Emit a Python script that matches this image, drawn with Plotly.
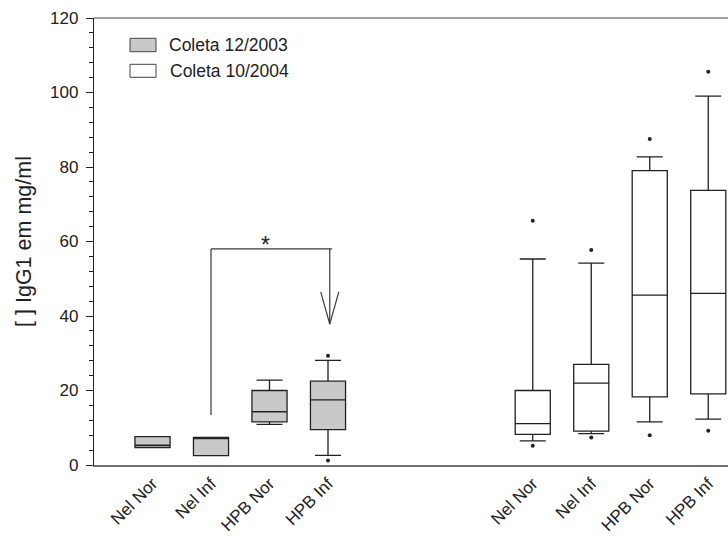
import plotly.graph_objects as go

# Groups and their positions on the x axis
categories = ["Nel Nor", "Nel Inf", "HPB Nor", "HPB Inf"]
pos_2003 = [1, 2, 3, 4]
pos_2004 = [7.5, 8.5, 9.5, 10.5]

# Coleta 12/2003 (IgG1, mg/ml)
low_2003 = [4.7, 2.5, 10.9, 2.6]
q1_2003 = [4.7, 2.5, 11.6, 9.5]
med_2003 = [5.3, 7.1, 14.3, 17.5]
q3_2003 = [7.6, 7.4, 20.0, 22.5]
high_2003 = [7.6, 7.4, 22.8, 28.1]
out_x_2003 = [4, 4]
out_y_2003 = [1.2, 29.3]

# Coleta 10/2004 (IgG1, mg/ml)
low_2004 = [6.5, 8.4, 11.6, 12.3]
q1_2004 = [8.2, 9.1, 18.3, 19.1]
med_2004 = [11.1, 22.0, 45.6, 46.1]
q3_2004 = [20.0, 27.0, 79.0, 73.7]
high_2004 = [55.3, 54.2, 82.7, 99.0]
out_x_2004 = [7.5, 7.5, 8.5, 8.5, 9.5, 9.5, 10.5, 10.5]
out_y_2004 = [5.2, 65.6, 7.4, 57.7, 8.0, 87.5, 9.2, 105.6]

# Significance bracket (Nel Inf vs HPB Inf, 12/2003)
bracket_x = [2.0, 4.07]
bracket_y = 58.0
bracket_leg_bottom = 13.4
arrow_x = 4.03
arrow_tip = 37.8
arrow_wing_top = 46.5
arrow_wing_dx = 0.155

FONT = "Liberation Sans, Arial, sans-serif"
INK = "#222222"

fig = go.Figure()

box_style = dict(width=0.6, whiskerwidth=0.74, boxpoints=False,
                 line=dict(color=INK, width=1.3), showlegend=False,
                 hoverinfo="skip")

fig.add_trace(go.Box(x=pos_2003, lowerfence=low_2003, q1=q1_2003,
                     median=med_2003, q3=q3_2003, upperfence=high_2003,
                     fillcolor="#c9c9c9", name="Coleta 12/2003", **box_style))
fig.add_trace(go.Box(x=pos_2004, lowerfence=low_2004, q1=q1_2004,
                     median=med_2004, q3=q3_2004, upperfence=high_2004,
                     fillcolor="#ffffff", name="Coleta 10/2004", **box_style))

fig.add_trace(go.Scatter(x=out_x_2003 + out_x_2004, y=out_y_2003 + out_y_2004,
                         mode="markers", marker=dict(color=INK, size=4),
                         showlegend=False, hoverinfo="skip"))

# bracket and arrow
line_style = dict(color="#3a3a3a", width=1.2)
shapes = [
    dict(type="line", xref="x", yref="y", x0=bracket_x[0], x1=bracket_x[0],
         y0=bracket_leg_bottom, y1=bracket_y, line=line_style),
    dict(type="line", xref="x", yref="y", x0=bracket_x[0], x1=bracket_x[1],
         y0=bracket_y, y1=bracket_y, line=line_style),
    dict(type="line", xref="x", yref="y", x0=arrow_x, x1=arrow_x,
         y0=bracket_y, y1=arrow_tip, line=line_style),
    dict(type="line", xref="x", yref="y", x0=arrow_x - arrow_wing_dx, x1=arrow_x,
         y0=arrow_wing_top, y1=arrow_tip, line=line_style),
    dict(type="line", xref="x", yref="y", x0=arrow_x + arrow_wing_dx, x1=arrow_x,
         y0=arrow_wing_top, y1=arrow_tip, line=line_style),
]

# legend swatches (paper coordinates)
W_PLOT, H_PLOT, L, B = 634.0, 447.0, 94.0, 465.0
def px(xp):
    return (xp - L) / W_PLOT
def py(yp):
    return (B - yp) / H_PLOT

shapes += [
    dict(type="rect", xref="paper", yref="paper", x0=px(130), x1=px(156),
         y0=py(51.7), y1=py(38.3), fillcolor="#c9c9c9",
         line=dict(color="#444444", width=1)),
    dict(type="rect", xref="paper", yref="paper", x0=px(130), x1=px(156),
         y0=py(77.3), y1=py(64.3), fillcolor="#ffffff",
         line=dict(color="#444444", width=1)),
]

annotations = [
    dict(text="Coleta 12/2003", xref="paper", yref="paper", x=px(167), y=py(45),
         xanchor="left", yanchor="middle", showarrow=False,
         font=dict(family=FONT, size=17.5, color=INK)),
    dict(text="Coleta 10/2004", xref="paper", yref="paper", x=px(168), y=py(71),
         xanchor="left", yanchor="middle", showarrow=False,
         font=dict(family=FONT, size=17.5, color=INK)),
    dict(text="*", xref="x", yref="y", x=2.93, y=59.0,
         xanchor="center", yanchor="middle", showarrow=False,
         font=dict(family=FONT, size=23, color=INK)),
]

fig.update_layout(
    width=728, height=536,
    margin=dict(l=94, r=0, t=18, b=71),
    paper_bgcolor="white", plot_bgcolor="white",
    font=dict(family=FONT, size=17, color=INK),
    shapes=shapes, annotations=annotations,
    showlegend=False,
)

fig.update_xaxes(
    range=[0, 634 / 58.5], tickvals=pos_2003 + pos_2004,
    ticktext=categories + categories, tickangle=-45,
    ticks="", showgrid=False, zeroline=False,
    showline=True, linecolor="#6e6e6e", linewidth=2, mirror=False,
    tickfont=dict(family=FONT, size=17, color=INK),
)
fig.update_yaxes(
    range=[0, 120], tickvals=[0, 20, 40, 60, 80, 100, 120],
    ticks="outside", ticklen=7, tickwidth=1, tickcolor=INK,
    ticklabelstandoff=4,
    minor=dict(dtick=4, ticks="outside", ticklen=4, tickwidth=1, tickcolor=INK),
    showgrid=False, zeroline=False,
    showline=True, linecolor=INK, linewidth=1.3,
    title=dict(text="[ ] IgG1 em mg/ml", font=dict(family=FONT, size=21.5, color=INK),
               standoff=12),
    tickfont=dict(family=FONT, size=17, color=INK),
)

# top border line
fig.add_shape(type="line", xref="paper", yref="paper", x0=0, x1=1, y0=1, y1=1,
              line=dict(color="#444444", width=1.2))

fig.write_html("out.html")
